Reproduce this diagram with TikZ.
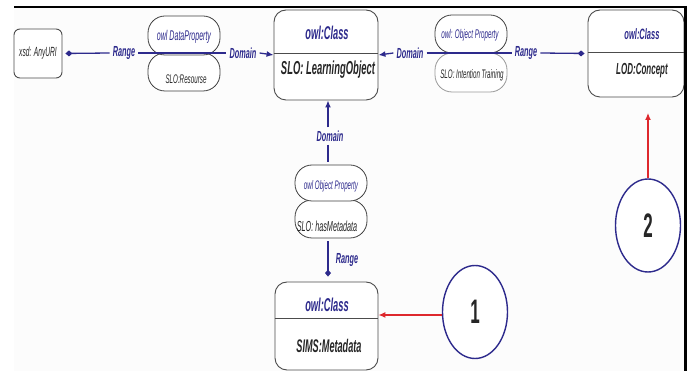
\documentclass[tikz,border=0pt]{standalone}
\usepackage{fontspec}
\setmainfont{Liberation Sans}
\newfontfamily\nar[FakeStretch=0.5]{Liberation Sans}
\usetikzlibrary{arrows.meta,shapes.geometric}
\definecolor{navy}{RGB}{45,42,140}
\definecolor{redarr}{RGB}{222,40,45}
\definecolor{bgc}{RGB}{252,252,252}
\begin{document}
\begin{tikzpicture}[x=1pt,y=-1pt,
  classbox/.style={draw=black!70, line width=0.9pt, rounded corners=12pt, fill=white, inner sep=0pt},
  pill/.style={draw=black!75, line width=0.8pt, rounded corners=17pt, fill=white, inner sep=0pt, minimum width=72pt},
  lbl/.style={font={\nar\bfseries\itshape\fontsize{14.6}{15}\selectfont}, text=navy, inner sep=3pt},
  conn/.style={draw=navy, line width=1.3pt},
  ctitle/.style={font={\nar\bfseries\itshape\fontsize{#1}{#1}\selectfont}, text=navy, inner sep=0pt},
  cname/.style={font={\nar\bfseries\itshape\fontsize{#1}{#1}\selectfont}, text=black!85, inner sep=0pt},
  ptitle/.style={font={\nar\itshape\fontsize{#1}{#1}\selectfont}, text=navy, inner sep=0pt},
  pname/.style={font={\nar\itshape\fontsize{#1}{#1}\selectfont}, text=black!85, inner sep=0pt},
  circ/.style={draw=navy, line width=1.4pt, ellipse, minimum width=65pt, minimum height=93pt, inner sep=0pt, fill=white},
  num/.style={font={\nar\bfseries\fontsize{34}{34}\selectfont}, text=black!85},
  redline/.style={draw=redarr, line width=1.2pt, -{Latex[length=7pt,width=6pt]}},
  dtip/.style={-{Diamond[length=7pt,width=6pt]}},
  atip/.style={-{Latex[length=7pt,width=6pt]}}
]
\useasboundingbox (0,0) rectangle (689,371);
\fill[bgc] (14,7) rectangle (684,371);

% class boxes
\node[classbox, minimum width=48pt, minimum height=49pt, rounded corners=6pt] (xsd) at (38,53.5) {};
\node[pname=13.3] (xsdt) at (38,53.5) {xsd: AnyURI};

\node[classbox, minimum width=104pt, minimum height=90pt] (LO) at (326,55) {};
\draw[black!70, line width=0.9pt] (LO.west |- 0,53) -- (LO.east |- 0,53);
\node[ctitle=18.5] (LOt) at (327,33) {owl:Class};
\node[cname=18.8] (LOn) at (328,70) {SLO: LearningObject};

\node[classbox, minimum width=96pt, minimum height=87pt] (LOD) at (636,53.5) {};
\draw[black!70, line width=0.9pt] (LOD.west |- 0,52) -- (LOD.east |- 0,52);
\node[ctitle=15] (LODt) at (642,34) {owl:Class};
\node[cname=16] (LODn) at (642,71) {LOD:Concept};

\node[classbox, minimum width=103pt, minimum height=88pt] (SIMS) at (326.5,326) {};
\draw[black!70, line width=0.9pt] (SIMS.west |- 0,318) -- (SIMS.east |- 0,318);
\node[ctitle=18.6] (SIMSt) at (327,305) {owl:Class};
\node[cname=18.3] (SIMSn) at (329,346) {SIMS:Metadata};

% pills
\node[pill, minimum height=38pt] (dpB) at (184,72) {};
\node[pill, minimum height=39pt] (dpT) at (184,35.5) {};
\node[ptitle=14.1] (dpTt) at (184,37) {owl DataProperty};
\node[pname=12.5] (dpBt) at (186,79) {SLO:Resourse};

\node[pill, minimum height=39pt, draw=black!40] (opB) at (471,72.5) {};
\node[pill, minimum height=38pt] (opT) at (471,34) {};
\node[ptitle=12.6] (opTt) at (470,35) {owl: Object Property};
\node[pname=12.4] (opBt) at (472,75) {SLO: Intention Training};

\node[pill, minimum height=38pt] (hmB) at (331,219) {};
\node[pill, minimum height=36pt] (hmT) at (331,183) {};
\node[ptitle=12.4] (hmTt) at (331,186) {owl Object Property};
\node[pname=14.5] (hmBt) at (327,226) {SLO: hasMetadata};

% labels
\node[lbl] (rangeL) at (124,53) {Range};
\node[lbl] (domL) at (243,53) {Domain};
\node[lbl] (domR) at (410,53) {Domain};
\node[lbl] (rangeR) at (526,53) {Range};
\node[lbl] (domV) at (330,136) {Domain};
\node[lbl] (rangeV) at (347,260) {Range};

% connectors
\draw[conn, dtip, shorten >=3pt] (rangeL.west) -- (xsd.east);
\draw[conn] (rangeL.east) -- (domL.west);
\draw[conn, atip] (domL.east) -- (LO.west);
\draw[conn, atip] (domR.west) -- (LO.east);
\draw[conn] (domR.east) -- (rangeR.west);
\draw[conn, dtip, shorten >=3pt] (rangeR.east) -- (LOD.west);
\coordinate (vx) at (328,0);
\draw[conn, atip] (vx |- domV.north) -- (vx |- LO.south);
\draw[conn, shorten >=3pt] (vx |- domV.south) -- (vx |- hmT.north);
\draw[conn, dtip, shorten <=3pt, shorten >=5pt] (vx |- hmB.south) -- (vx |- SIMS.north);

% circles
\node[circ] (c1) at (475,312) {};
\node[num] (n1) at (475,312) {1};
\node[circ] (c2) at (648,225.5) {};
\node[num] (n2) at (648,225.5) {2};
\coordinate (c2end) at (648,113);
\draw[redline] (c1.west |- 0,315) -- (SIMS.east |- 0,315);
\draw[redline] (c2.north) -- (c2end);

% frame
\draw[black, line width=2pt] (14,7) -- (686,7);
\draw[black, line width=3pt] (685.5,6) -- (685.5,371);
\end{tikzpicture}
\end{document}
